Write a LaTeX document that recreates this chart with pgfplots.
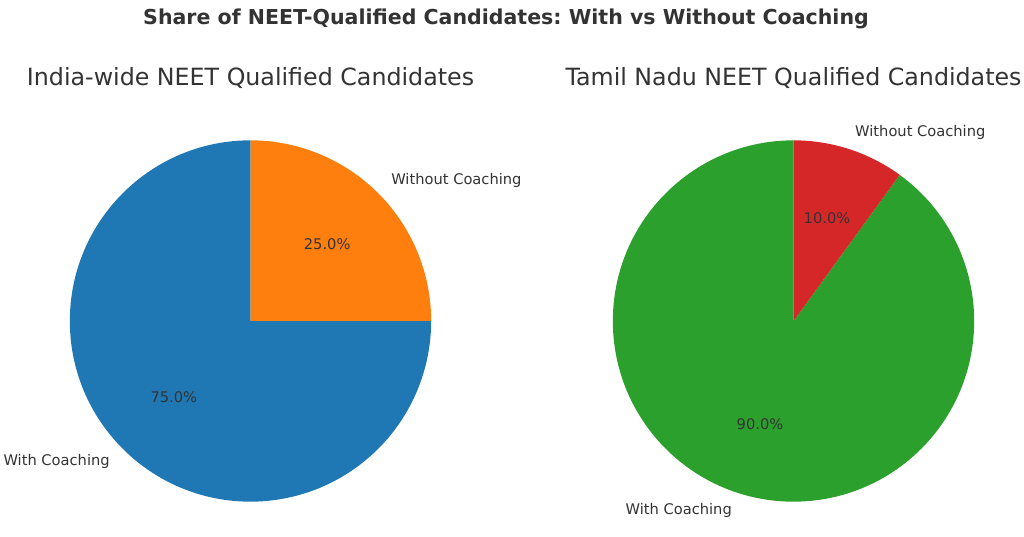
\documentclass[border=0pt]{standalone}
\usepackage{fontspec}
\setmainfont{DejaVu Sans}
\usepackage{pgfplots}
\usepackage{pgfplotstable}
\pgfplotsset{compat=1.18}
\frenchspacing

\definecolor{tabblue}{HTML}{1F77B4}
\definecolor{taborange}{HTML}{FF7F0E}
\definecolor{tabgreen}{HTML}{2CA02C}
\definecolor{tabred}{HTML}{D62728}
\definecolor{txt}{HTML}{333333}

% shares in percent: with coaching, without coaching
\pgfplotstableread{
share
75
25
}\indiatable
\pgfplotstableread{
share
90
10
}\tamiltable

\pgfplotsset{
  pie/.style={scale only axis, width=271pt, height=271pt,
    xmin=-1, xmax=1, ymin=-1, ymax=1, hide axis, clip=false, anchor=origin},
}
\newcommand{\labfont}{\fontsize{11}{13}\selectfont}
\newcommand{\pct}[1]{\pgfmathprintnumber[fixed,fixed zerofill,precision=1,assume math mode=true]{#1}\%}

\begin{document}
\begin{tikzpicture}[x=0.75pt,y=0.75pt,text=txt]
\path[use as bounding box] (0,0) rectangle (1024,536);
\coordinate (cl) at (250.5,215);
\coordinate (cr) at (793.5,215);

\node[font=\bfseries\fontsize{15.4}{18}\selectfont] at (506,517) {Share of NEET-Qualified Candidates: With vs Without Coaching};
\node[font=\fontsize{17.8}{21}\selectfont] at (250.5,458) {India-wide NEET Qualified Candidates};
\node[font=\fontsize{17.8}{21}\selectfont] at (793.5,458) {Tamil Nadu NEET Qualified Candidates};

% left pie
\pgfplotstablegetelem{0}{share}\of\indiatable \let\iW\pgfplotsretval
\pgfplotstablegetelem{1}{share}\of\indiatable \let\iO\pgfplotsretval
\pgfmathsetmacro\iWend{90+3.6*\iW}
\pgfmathsetmacro\iWmid{90+1.8*\iW}
\pgfmathsetmacro\iOend{\iWend+3.6*\iO}
\pgfmathsetmacro\iOmid{\iWend+1.8*\iO}
\begin{axis}[pie, at={(cl)}]
\fill[tabblue] (axis cs:0,0) -- (axis cs:0,1) arc[start angle=90, end angle=\iWend, radius=135.5pt] -- cycle;
\fill[taborange] (axis cs:0,0) -- (axis cs:{cos(\iWend)},{sin(\iWend)}) arc[start angle=\iWend, end angle=\iOend, radius=135.5pt] -- cycle;
\node[anchor=east, inner sep=0pt, font=\labfont] at (axis cs:{1.1*cos(\iWmid)},{1.1*sin(\iWmid)}) {With Coaching};
\node[anchor=west, inner sep=0pt, font=\labfont] at (axis cs:{1.1*cos(\iOmid)},{1.1*sin(\iOmid)}) {Without Coaching};
\node[inner sep=0pt, font=\labfont] at (axis cs:{0.6*cos(\iWmid)},{0.6*sin(\iWmid)}) {\pct{\iW}};
\node[inner sep=0pt, font=\labfont] at (axis cs:{0.6*cos(\iOmid)},{0.6*sin(\iOmid)}) {\pct{\iO}};
\end{axis}

% right pie
\pgfplotstablegetelem{0}{share}\of\tamiltable \let\tW\pgfplotsretval
\pgfplotstablegetelem{1}{share}\of\tamiltable \let\tO\pgfplotsretval
\pgfmathsetmacro\tWend{90+3.6*\tW}
\pgfmathsetmacro\tWmid{90+1.8*\tW}
\pgfmathsetmacro\tOend{\tWend+3.6*\tO}
\pgfmathsetmacro\tOmid{\tWend+1.8*\tO}
\begin{axis}[pie, at={(cr)}]
\fill[tabgreen] (axis cs:0,0) -- (axis cs:0,1) arc[start angle=90, end angle=\tWend, radius=135.5pt] -- cycle;
\fill[tabred] (axis cs:0,0) -- (axis cs:{cos(\tWend)},{sin(\tWend)}) arc[start angle=\tWend, end angle=\tOend, radius=135.5pt] -- cycle;
\node[anchor=east, inner sep=0pt, font=\labfont] at (axis cs:{1.1*cos(\tWmid)},{1.1*sin(\tWmid)}) {With Coaching};
\node[anchor=west, inner sep=0pt, font=\labfont] at (axis cs:{1.1*cos(\tOmid)},{1.1*sin(\tOmid)}) {Without Coaching};
\node[inner sep=0pt, font=\labfont] at (axis cs:{0.6*cos(\tWmid)},{0.6*sin(\tWmid)}) {\pct{\tW}};
\node[inner sep=0pt, font=\labfont] at (axis cs:{0.6*cos(\tOmid)},{0.6*sin(\tOmid)}) {\pct{\tO}};
\end{axis}
\end{tikzpicture}
\end{document}
